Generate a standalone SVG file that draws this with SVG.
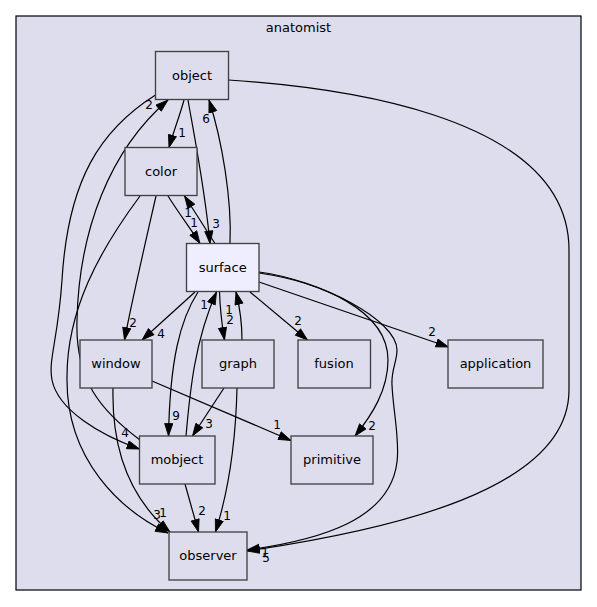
<svg xmlns="http://www.w3.org/2000/svg" width="597" height="607" viewBox="0 0 597 607">
<style>
.n rect{fill:#ddddee;stroke:#404040;stroke-width:1.33}
.n text{font-family:"DejaVu Sans",sans-serif;font-size:13px;text-anchor:middle;fill:#000}
#edges path{fill:none;stroke:#000;stroke-width:1.2;marker-end:url(#ah)}
#edges text{font-family:"DejaVu Sans",sans-serif;font-size:12px;text-anchor:middle;fill:#000}
</style>
<defs>
<marker id="ah" markerUnits="userSpaceOnUse" markerWidth="14" markerHeight="10" refX="13" refY="4.65" orient="auto" viewBox="0 0 14 10">
<path d="M0.5,0.5 L13,4.65 L0.5,8.8 z" fill="#000" stroke="#000" stroke-width="0.8"/>
</marker>
</defs>
<rect width="597" height="607" fill="#ffffff"/>
<g id="cluster">
<rect x="16" y="16" width="565" height="574" fill="#ddddee" stroke="#000" stroke-width="1.2"/>
<text x="298.5" y="32" font-family="DejaVu Sans,sans-serif" font-size="13px" text-anchor="middle">anatomist</text>
</g>
<g id="edges">
<path d="M184,100 C180,115 174,130 169,147.5"/><text x="182" y="137">1</text>
<path d="M188,100 C195,140 205,190 210,243.5"/><text x="216" y="228">3</text>
<path d="M230,243.5 C232,200 222,140 209,100"/><text x="206" y="123">6</text>
<path d="M228.5,80 C320,86 569,110 569,250 L569,390 C569,490 390,530 247,551"/><text x="266" y="562">5</text>
<path d="M168,196 C178,212 190,228 200,243.5"/><text x="194" y="227">1</text>
<path d="M215,243.5 C205,228 195,212 184.5,196"/><text x="188" y="217">1</text>
<path d="M156,196 C146,240 132,300 124.5,340"/><text x="133" y="327">2</text>
<path d="M140,196 C100,250 66,310 67,380 C67,460 120,510 168,533"/><text x="157" y="519">3</text>
<path d="M140,440 C100,410 75,380 77,320 C79,230 110,150 168,100"/><text x="149" y="109">2</text>
<path d="M155.5,95 C100,130 68,180 62,280 C58,340 48,360 52,380 C58,410 100,435 139.5,449"/><text x="125" y="437">4</text>
<path d="M195,292 L142,340"/><text x="161" y="338">4</text>
<path d="M198,292 C180,320 170,360 168.5,436"/><text x="176" y="420">9</text>
<path d="M186,436 C190,390 195,340 216.5,292"/><text x="204" y="309">1</text>
<path d="M219.5,292 C220,308 222,325 224.5,340"/><text x="230" y="324">2</text>
<path d="M242,340 C242,325 240,308 236,292"/><text x="229" y="314">1</text>
<path d="M224,388 L192.5,436"/><text x="209" y="428">3</text>
<path d="M237,388 C236,430 232,480 215.5,532"/><text x="227" y="520">1</text>
<path d="M250,292 L307.5,340"/><text x="298" y="325">2</text>
<path d="M259,282 L448.5,347"/><text x="432" y="336">2</text>
<path d="M259,273 C320,282 388,310 388,360 C388,390 372,415 355,436"/><text x="372" y="430">2</text>
<path d="M259,272 C320,280 397,320 397,350 C397,362 391,370 392,385 C393,410 400,440 397,462 C390,520 320,540 247,550"/><text x="265" y="557">1</text>
<path d="M152,381 L291,440.5"/><text x="277" y="429">1</text>
<path d="M113,388 C112,430 120,490 170,532"/><text x="163" y="517">1</text>
<path d="M185,484 L198.5,532"/><text x="202" y="515">2</text>
</g>
<g id="object" class="n"><rect x="155.5" y="51.5" width="73" height="48"/><text x="192" y="80">object</text></g>
<g id="color" class="n"><rect x="125" y="147.5" width="72" height="48"/><text x="161" y="176">color</text></g>
<g id="surface" class="n"><rect x="186.5" y="243.5" width="72.5" height="48" style="fill:#eeeeff"/><text x="222.7" y="272">surface</text></g>
<g id="window" class="n"><rect x="80" y="340" width="72" height="48"/><text x="116" y="368">window</text></g>
<g id="graph" class="n"><rect x="202" y="340" width="72" height="48"/><text x="238" y="368">graph</text></g>
<g id="fusion" class="n"><rect x="298" y="340" width="72.5" height="48"/><text x="334" y="368">fusion</text></g>
<g id="application" class="n"><rect x="448" y="340" width="95" height="48"/><text x="495.5" y="368">application</text></g>
<g id="primitive" class="n"><rect x="291" y="436" width="82" height="48"/><text x="332" y="464">primitive</text></g>
<g id="mobject" class="n"><rect x="139.5" y="436" width="75.5" height="48"/><text x="177" y="464">mobject</text></g>
<g id="observer" class="n"><rect x="169" y="532" width="78" height="48"/><text x="208" y="560">observer</text></g>
</svg>
